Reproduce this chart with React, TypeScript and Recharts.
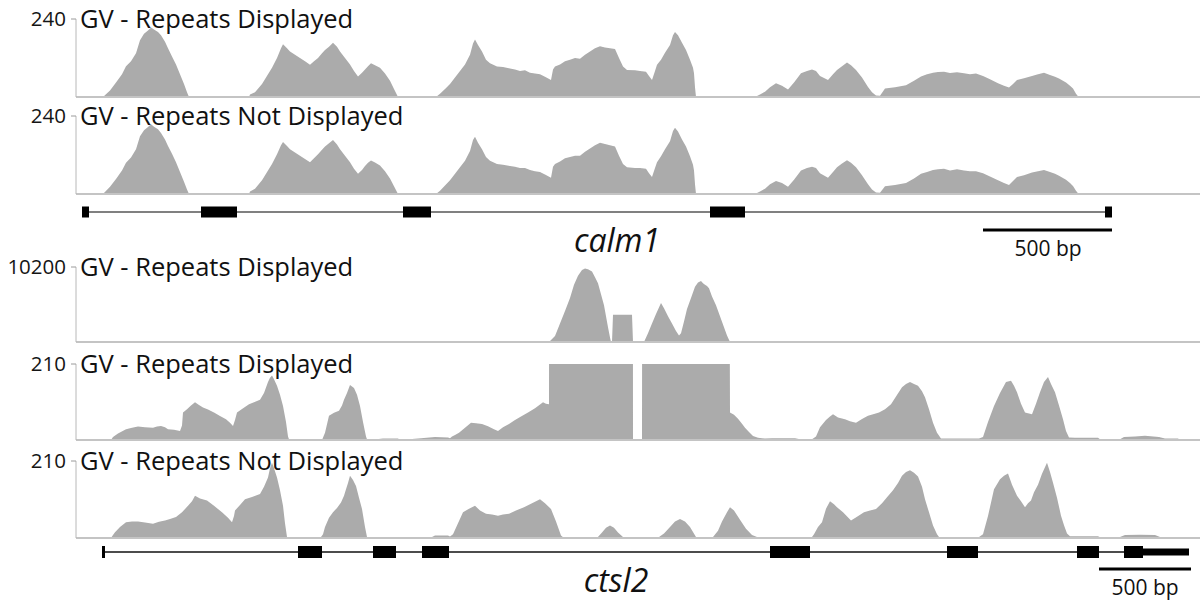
import React from "react";
import {
  AreaChart,
  Area,
  Line,
  XAxis,
  YAxis,
  ComposedChart,
  ReferenceArea,
  ReferenceLine,
} from "recharts";

// ---------- data: [position, coverage] ----------
const calm1Displayed: [number, number][] = [
  [76, 0], [103, 0], [110, 20], [116, 45], [122, 70], [126, 95], [131, 110], [136, 135], [140, 175], [144, 195], [148, 205], [151, 214], [154, 208], [158, 200], [161, 190], [165, 170], [168, 150], [172, 125], [176, 100], [180, 70], [184, 40], [187, 15], [189, 0],
  [214, 2], [245, 2], [249, 0],
  [250, 8], [255, 15], [262, 40], [268, 70], [272, 90], [277, 120], [281, 150], [283, 162], [287, 150], [290, 140], [295, 130], [300, 120], [305, 110], [310, 99], [314, 110], [318, 120], [322, 135], [325, 145], [329, 155], [333, 167], [337, 155], [340, 140], [345, 120], [350, 100], [354, 80], [358, 63], [362, 75], [365, 85], [368, 95], [371, 104], [375, 98], [380, 90], [385, 72], [390, 50], [394, 25], [398, 0],
  [436, 0], [440, 10], [445, 25], [450, 40], [455, 60], [460, 80], [465, 100], [470, 130], [473, 165], [475, 177], [478, 160], [482, 140], [486, 115], [490, 104], [497, 94], [503, 92], [510, 88], [515, 85], [520, 80], [525, 82], [530, 75], [535, 72], [540, 70], [545, 62], [551, 52], [553, 85], [555, 94], [560, 100], [565, 110], [570, 115], [575, 120], [580, 118], [585, 130], [590, 140], [595, 150], [600, 156], [605, 152], [610, 150], [615, 148], [619, 120], [623, 94], [627, 83], [635, 82], [640, 80], [646, 78], [649, 65], [652, 52], [655, 80], [657, 99], [661, 115], [665, 136], [670, 160], [673, 190], [675, 200], [678, 190], [682, 167], [686, 145], [690, 115], [693, 90], [694, 73], [695, 30], [696, 0],
  [755, 0], [760, 8], [765, 16], [770, 30], [776, 42], [782, 35], [788, 23], [794, 45], [801, 73], [807, 80], [812, 85], [816, 80], [820, 65], [828, 52], [833, 70], [837, 83], [842, 95], [847, 106], [851, 98], [856, 83], [862, 60], [868, 31], [872, 15], [876, 5], [880, 4], [885, 26], [895, 30], [906, 36], [914, 50], [921, 63], [927, 70], [933, 75], [938, 77], [944, 78], [950, 74], [957, 76], [964, 73], [970, 70], [976, 72], [983, 65], [990, 55], [998, 42], [1004, 35], [1009, 29], [1013, 40], [1017, 52], [1024, 58], [1032, 65], [1038, 70], [1044, 75], [1050, 68], [1055, 62], [1059, 57], [1066, 45], [1070, 35], [1073, 26], [1076, 10], [1078, 2], [1155, 2], [1158, 0], [1200, 0],
];

const calm1NotDisplayed: [number, number][] = [
  [76, 0], [103, 0], [110, 22], [116, 46], [122, 72], [126, 96], [131, 112], [136, 138], [140, 178], [144, 196], [148, 206], [151, 215], [154, 207], [158, 199], [161, 188], [165, 168], [168, 148], [172, 124], [176, 98], [180, 68], [184, 38], [187, 14], [189, 0],
  [214, 2], [245, 2], [249, 0],
  [250, 8], [255, 16], [262, 42], [268, 72], [272, 92], [277, 122], [281, 150], [283, 160], [287, 148], [290, 138], [295, 128], [300, 118], [305, 108], [310, 98], [314, 110], [318, 122], [322, 136], [325, 146], [329, 156], [333, 166], [337, 152], [340, 138], [345, 118], [350, 98], [354, 78], [358, 62], [362, 74], [365, 86], [368, 96], [371, 103], [375, 97], [380, 88], [385, 70], [390, 48], [394, 24], [398, 0],
  [436, 0], [440, 10], [445, 26], [450, 42], [455, 62], [460, 82], [465, 102], [470, 132], [473, 166], [475, 176], [478, 158], [482, 138], [486, 114], [490, 102], [497, 92], [503, 90], [510, 86], [515, 84], [520, 80], [525, 80], [530, 74], [535, 70], [540, 68], [545, 60], [551, 50], [553, 84], [555, 92], [560, 100], [565, 110], [570, 114], [575, 118], [580, 118], [585, 130], [590, 140], [595, 150], [600, 158], [605, 154], [610, 150], [615, 146], [619, 118], [623, 92], [627, 82], [635, 80], [640, 80], [646, 78], [649, 64], [652, 52], [655, 80], [657, 98], [661, 116], [665, 138], [670, 162], [673, 194], [675, 204], [678, 192], [682, 168], [686, 146], [690, 116], [693, 90], [694, 72], [695, 30], [696, 0],
  [755, 0], [760, 8], [765, 16], [770, 30], [776, 40], [782, 34], [788, 22], [794, 44], [801, 72], [807, 80], [812, 84], [816, 80], [820, 64], [828, 50], [833, 68], [837, 82], [842, 94], [847, 104], [851, 96], [856, 82], [862, 58], [868, 30], [872, 14], [876, 5], [880, 4], [885, 24], [895, 28], [906, 34], [914, 48], [921, 62], [927, 68], [933, 74], [938, 76], [944, 78], [950, 72], [957, 76], [964, 72], [970, 70], [976, 70], [983, 64], [990, 54], [998, 42], [1004, 34], [1009, 28], [1013, 40], [1017, 52], [1024, 58], [1032, 66], [1038, 70], [1044, 74], [1050, 68], [1055, 62], [1059, 56], [1066, 44], [1070, 34], [1073, 25], [1076, 10], [1078, 2], [1155, 2], [1158, 0], [1200, 0],
];

const ctsl2Displayed10200: [number, number][] = [
  [76, 0], [195, 0], [196, 120], [214, 120], [215, 0], [245, 0], [246, 120], [268, 120], [269, 0], [340, 0], [341, 120], [352, 120], [353, 0], [536, 0], [537, 120], [547, 120], [549, 0],
  [555, 800], [560, 2500], [565, 4200], [570, 6000], [574, 7800], [578, 9000], [582, 9800], [585, 10000], [588, 9900], [592, 9600], [595, 8800], [598, 8000], [601, 6500], [604, 5000], [606, 3500], [608, 2000], [610, 600], [611, 0], [612, 0],
  [613, 3700], [632, 3700], [633, 0], [644, 0],
  [648, 1200], [652, 2500], [656, 3800], [661, 5300], [664, 4600], [668, 3500], [672, 2500], [676, 1500], [679, 900], [681, 1200], [684, 2800], [687, 4500], [691, 6000], [695, 7500], [698, 8100], [701, 8300], [703, 8000], [705, 7800], [707, 7600], [709, 7300], [712, 6200], [716, 5000], [720, 3500], [724, 2000], [727, 900], [730, 0],
  [887, 0], [888, 120], [925, 120], [926, 0], [994, 0], [995, 120], [1021, 120], [1022, 0], [1036, 0], [1037, 120], [1059, 120], [1060, 0], [1200, 0],
];

const ctsl2Displayed: [number, number][] = [
  [76, 0], [111, 0], [113, 8], [118, 18], [126, 30], [132, 34], [138, 37], [145, 35], [153, 34], [157, 37], [161, 39], [165, 35], [168, 30], [174, 28], [180, 25], [182, 40], [183, 76], [187, 85], [191, 95], [195, 104], [199, 97], [203, 90], [208, 84], [214, 76], [220, 66], [226, 57], [230, 48], [233, 39], [235, 55], [237, 76], [242, 86], [249, 99], [254, 104], [260, 111], [264, 130], [268, 160], [270, 172], [272, 178], [274, 168], [277, 150], [280, 125], [283, 94], [286, 50], [288, 10], [289, 2],
  [318, 2], [322, 0], [325, 20], [329, 67], [334, 75], [339, 81], [342, 95], [344, 111], [347, 130], [350, 152], [352, 148], [354, 144], [357, 125], [360, 94], [363, 50], [366, 10], [367, 2], [370, 0],
  [383, 4], [398, 4], [400, 0], [421, 5], [435, 8], [448, 7], [450, 5], [452, 10], [455, 14], [459, 20], [465, 34], [471, 48], [476, 46], [482, 44], [488, 38], [494, 30], [498, 25], [503, 35], [509, 44], [515, 55], [521, 65], [528, 76], [535, 88], [543, 104], [546, 100], [549, 99],
  [550, 2600], [570, 6000], [585, 10000], [604, 5000], [610, 900], [611, 400], [613, 3700], [632, 3700], [633, 0], [642, 0], [643, 2500], [661, 5300], [679, 900], [701, 8300], [724, 2000], [729, 900],
  [730, 76], [734, 70], [738, 59], [742, 45], [745, 34], [749, 22], [753, 11], [758, 6], [765, 4], [772, 5], [795, 5], [800, 2], [812, 2],
  [816, 10], [820, 35], [826, 55], [830, 65], [833, 71], [838, 62], [845, 57], [850, 52], [856, 48], [862, 58], [868, 67], [874, 72], [879, 76], [885, 85], [891, 99], [896, 120], [902, 146], [906, 155], [910, 160], [914, 155], [918, 150], [922, 135], [925, 118], [929, 85], [933, 48], [937, 20], [941, 4], [979, 4],
  [983, 8], [988, 50], [994, 94], [1000, 130], [1006, 160], [1011, 164], [1014, 150], [1017, 132], [1021, 100], [1025, 76], [1028, 74], [1032, 71], [1036, 100], [1040, 132], [1044, 160], [1048, 174], [1051, 155], [1055, 132], [1059, 95], [1063, 57], [1066, 25], [1069, 7], [1075, 6], [1098, 6], [1100, 2], [1120, 2], [1124, 8], [1135, 10], [1145, 12], [1159, 8], [1165, 4], [1178, 4], [1180, 0], [1200, 0],
];

const ctsl2NotDisplayed: [number, number][] = [
  [76, 0], [111, 0], [113, 8], [115, 16], [120, 30], [126, 43], [132, 45], [138, 45], [145, 42], [153, 39], [159, 44], [165, 48], [170, 52], [176, 57], [182, 70], [188, 88], [192, 100], [195, 115], [200, 108], [207, 102], [214, 88], [222, 70], [228, 55], [232, 43], [234, 60], [235, 75], [240, 90], [245, 106], [252, 112], [260, 120], [264, 140], [268, 165], [270, 190], [272, 205], [274, 190], [277, 165], [280, 130], [283, 88], [285, 40], [287, 3],
  [321, 3], [323, 10], [325, 30], [329, 55], [333, 70], [337, 82], [341, 97], [344, 115], [346, 133], [348, 150], [350, 170], [353, 158], [356, 142], [359, 110], [362, 79], [365, 30], [367, 3],
  [432, 3], [435, 7], [448, 7], [450, 4], [453, 10], [458, 40], [463, 70], [469, 80], [475, 88], [480, 75], [486, 66], [492, 64], [498, 61], [503, 64], [509, 66], [516, 75], [524, 84], [532, 95], [540, 106], [545, 95], [551, 79], [556, 45], [561, 7], [564, 0],
  [597, 0], [602, 15], [606, 28], [610, 34], [614, 28], [618, 15], [623, 3], [659, 3], [664, 12], [670, 30], [675, 45], [680, 52], [685, 45], [690, 30], [696, 3], [713, 3], [718, 20], [722, 45], [727, 70], [730, 84], [734, 75], [740, 50], [746, 25], [752, 8], [757, 3],
  [812, 3], [814, 10], [818, 30], [822, 43], [826, 80], [830, 100], [834, 92], [837, 84], [843, 70], [851, 48], [857, 58], [864, 70], [870, 75], [876, 79], [882, 95], [887, 111], [893, 130], [898, 150], [902, 170], [906, 180], [910, 185], [914, 178], [918, 168], [922, 140], [925, 106], [929, 70], [933, 34], [937, 10], [939, 3],
  [979, 3], [983, 10], [988, 60], [994, 133], [1000, 160], [1004, 170], [1008, 176], [1012, 145], [1017, 115], [1021, 100], [1025, 84], [1028, 95], [1031, 102], [1034, 125], [1038, 145], [1042, 175], [1047, 205], [1050, 180], [1053, 151], [1057, 110], [1061, 61], [1064, 35], [1067, 12], [1070, 5], [1098, 5], [1100, 2], [1120, 3], [1125, 8], [1140, 9], [1155, 8], [1160, 3], [1200, 0],
];

// gene models: exon [start, end]
const calm1Exons: [number, number][] = [[82, 89], [201, 237], [403, 431], [710, 745], [1105, 1112]];
const ctsl2Exons: [number, number][] = [[102, 105], [298, 322], [373, 396], [422, 449], [770, 810], [947, 978], [1077, 1099], [1124, 1143]];
const ctsl2Utr: [number, number] = [1143, 1189];
const calm1ScaleBar: [number, number] = [983, 1112];
const ctsl2ScaleBar: [number, number] = [1099, 1191];

const POS_DOMAIN: [number, number] = [76, 1200];
const FONT = "'Open Sans', 'Noto Sans', sans-serif";
const FILL = "#ababab";

type TrackProps = { pairs: [number, number][]; max: number; top: number; bottom: number; title: string };

const Track = ({ pairs, max, top, bottom, title }: TrackProps) => {
  const mt = 14;
  const data = pairs.map(([pos, v]) => ({ pos, v }));
  return (
    <>
      <div style={{ position: "absolute", left: 0, top: top - mt }}>
        <AreaChart width={1201} height={mt + (bottom - top) + 2} data={data} margin={{ top: mt, right: 1, left: 0, bottom: 0 }}>
          <XAxis type="number" dataKey="pos" domain={POS_DOMAIN} allowDataOverflow tick={false} tickLine={false} height={2} axisLine={{ stroke: "#c4c4c4", strokeWidth: 2 }} />
          <YAxis type="number" domain={[0, max]} ticks={[max]} interval={0} allowDataOverflow width={76} tickSize={5} tickMargin={5}
            tick={{ fontSize: 20.5, fill: "#151515", fontFamily: FONT }} tickLine={{ stroke: "#9a9a9a" }} axisLine={{ stroke: "#b8b8b8" }} />
          <Area type="linear" dataKey="v" fill={FILL} fillOpacity={1} stroke="none" isAnimationActive={false} />
        </AreaChart>
      </div>
      <div style={{ position: "absolute", left: 80, top: top + 0.5 - 13.5, fontFamily: FONT, fontSize: 25.5, lineHeight: "25.5px", color: "#111", whiteSpace: "nowrap" }}>
        {title}
      </div>
    </>
  );
};

type GeneProps = { top: number; height: number; exons: [number, number][]; utr?: [number, number]; bar: [number, number]; lineColor: string; lineWidth: number; lineY: number; exonHalf: number; barY: number };

const Gene = ({ top, height, exons, utr, bar, lineColor, lineWidth, lineY, exonHalf, barY }: GeneProps) => {
  const introns = exons.slice(1).map((ex, i) => [exons[i][1], ex[0]] as [number, number]);
  return (
    <div style={{ position: "absolute", left: 0, top }}>
      <ComposedChart width={1201} height={height} data={[{ pos: POS_DOMAIN[0], y: 0 }, { pos: POS_DOMAIN[1], y: 0 }]} margin={{ top: 0, right: 1, left: 0, bottom: 0 }}>
        <XAxis type="number" dataKey="pos" domain={POS_DOMAIN} height={0} tick={false} tickLine={false} axisLine={false} />
        <YAxis type="number" domain={[0, height]} reversed width={76} tick={false} tickLine={false} axisLine={false} />
        <Line dataKey="y" stroke="none" dot={false} isAnimationActive={false} />
        {introns.map(([s, e], i) => (
          <ReferenceLine key={`i${i}`} segment={[{ x: s, y: lineY }, { x: e, y: lineY }]} stroke={lineColor} strokeWidth={lineWidth} ifOverflow="visible" />
        ))}
        {exons.map(([s, e], i) => (
          <ReferenceArea key={`e${i}`} x1={s} x2={e} y1={lineY - exonHalf} y2={lineY + exonHalf} fill="#000" fillOpacity={1} stroke="none" ifOverflow="visible" />
        ))}
        {utr && <ReferenceArea x1={utr[0]} x2={utr[1]} y1={lineY - 3.5} y2={lineY + 3.5} fill="#000" fillOpacity={1} stroke="none" ifOverflow="visible" />}
        <ReferenceLine segment={[{ x: bar[0], y: barY }, { x: bar[1], y: barY }]} stroke="#000" strokeWidth={3} ifOverflow="visible" />
      </ComposedChart>
    </div>
  );
};

const textStyle = (left: number, top: number, size: number, italic = false): React.CSSProperties => ({
  position: "absolute", left, top, transform: "translateX(-50%)", fontFamily: FONT, fontSize: size, lineHeight: `${size}px`,
  fontStyle: italic ? "italic" : "normal", color: "#111", whiteSpace: "nowrap",
});

export default function App() {
  return (
    <div style={{ position: "absolute", left: 0, top: 0, width: 1201, height: 600, background: "#fff", overflow: "hidden" }}>
      <Track pairs={calm1Displayed} max={240} top={19} bottom={97} title="GV - Repeats Displayed" />
      <Track pairs={calm1NotDisplayed} max={240} top={116} bottom={194} title="GV - Repeats Not Displayed" />
      <Gene top={200} height={40} exons={calm1Exons} bar={calm1ScaleBar} lineColor="#808080" lineWidth={2} lineY={12} exonHalf={5.5} barY={30} />
      <div style={textStyle(617, 252 - 0.888 * 32, 32, true)}>calm1</div>
      <div style={textStyle(1048, 238, 21)}>500 bp</div>

      <Track pairs={ctsl2Displayed10200} max={10200} top={267} bottom={342} title="GV - Repeats Displayed" />
      <Track pairs={ctsl2Displayed} max={210} top={364} bottom={440} title="GV - Repeats Displayed" />
      <Track pairs={ctsl2NotDisplayed} max={210} top={461} bottom={538} title="GV - Repeats Not Displayed" />
      <Gene top={540} height={34} exons={ctsl2Exons} utr={ctsl2Utr} bar={ctsl2ScaleBar} lineColor="#111" lineWidth={1.5} lineY={12} exonHalf={6} barY={29} />
      <div style={textStyle(616, 592 - 0.888 * 32, 32, true)}>ctsl2</div>
      <div style={textStyle(1145, 577, 21)}>500 bp</div>
    </div>
  );
}
